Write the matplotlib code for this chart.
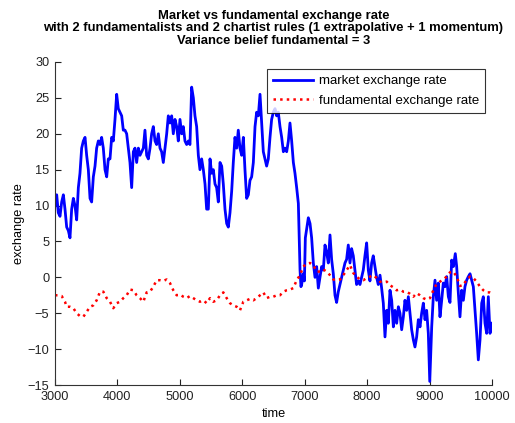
import matplotlib
matplotlib.use("Agg")
import matplotlib.pyplot as plt

plt.rcParams['font.family'] = ['Liberation Sans', 'DejaVu Sans']

market_t = [3000, 3027, 3053, 3080, 3107, 3134, 3160, 3187, 3214, 3240, 3267, 3294, 3320, 3347, 3374,
            3400, 3427, 3454, 3481, 3507, 3534, 3561, 3587, 3614, 3641, 3667, 3694, 3721, 3747, 3774,
            3801, 3828, 3854, 3881, 3908, 3934, 3961, 3988, 4014, 4041, 4068, 4094, 4121, 4148, 4174,
            4201, 4228, 4255, 4281, 4308, 4335, 4361, 4388, 4415, 4441, 4468, 4495, 4522, 4548, 4575,
            4602, 4628, 4655, 4682, 4708, 4735, 4762, 4789, 4815, 4842, 4869, 4895, 4922, 4949, 4975,
            5002, 5029, 5055, 5082, 5109, 5136, 5162, 5189, 5216, 5242, 5269, 5296, 5322, 5349, 5376,
            5403, 5429, 5456, 5483, 5509, 5536, 5563, 5589, 5616, 5643, 5670, 5696, 5723, 5750, 5776,
            5803, 5830, 5856, 5883, 5910, 5936, 5963, 5990, 6017, 6043, 6070, 6097, 6123, 6150, 6177,
            6204, 6230, 6257, 6284, 6310, 6337, 6364, 6390, 6417, 6444, 6470, 6497, 6524, 6551, 6577,
            6604, 6631, 6658, 6684, 6711, 6738, 6764, 6791, 6818, 6844, 6871, 6898, 6925, 6940, 6951,
            6978, 6995, 7010, 7035, 7058, 7085, 7111, 7138, 7165, 7191, 7218, 7245, 7271, 7298, 7325,
            7351, 7378, 7405, 7431, 7458, 7485, 7511, 7538, 7565, 7591, 7618, 7645, 7671, 7698, 7725,
            7751, 7778, 7805, 7831, 7858, 7885, 7912, 7938, 7965, 7992, 8019, 8045, 8072, 8098, 8125,
            8152, 8178, 8206, 8232, 8259, 8286, 8313, 8339, 8366, 8393, 8420, 8446, 8473, 8500, 8526,
            8553, 8580, 8606, 8633, 8660, 8686, 8713, 8740, 8766, 8793, 8820, 8847, 8873, 8900, 8927,
            8953, 8980, 9003, 9034, 9060, 9087, 9113, 9140, 9167, 9194, 9220, 9247, 9274, 9301, 9327,
            9354, 9381, 9412, 9434, 9461, 9487, 9514, 9541, 9567, 9594, 9621, 9648, 9674, 9701, 9728,
            9754, 9781, 9808, 9835, 9861, 9888, 9915, 9941, 9968, 10000]

market_rate = [10, 11.5, 9, 8.5, 10.5, 11.5, 9.5, 7, 6.5, 5.5, 9.5, 11, 10, 8, 12.5,
               14.5, 18, 19, 19.5, 17, 15, 11, 10.5, 14, 15.5, 18, 19, 18.5, 19.5, 18,
               15, 14, 16.5, 16.5, 19.5, 19, 22, 25.5, 23.5, 23, 22.5, 20.5, 20.5, 20, 18,
               16, 12.5, 17.5, 18, 16, 18, 17, 17.5, 18, 20.5, 17, 16.5, 18, 20, 21,
               19, 18.5, 20, 18, 17.5, 16, 18, 20, 22.5, 21.5, 22.5, 20, 22, 21, 19,
               22, 20, 21, 19, 18.5, 19, 18.5, 26.5, 25, 22.5, 21, 17, 15, 16.5, 15,
               13, 9.5, 9.5, 16.5, 14.5, 15, 13, 12.5, 10.5, 16, 15.5, 13, 9.5, 7.5, 7,
               9, 12, 16, 19.5, 18, 20.5, 18, 17, 19.5, 15, 11, 11.5, 13.5, 14, 16,
               21, 23, 22.5, 25.5, 21.5, 17.5, 16.5, 15.5, 16.5, 19.5, 22, 23, 23.5, 22.5, 23,
               21, 19.5, 17.5, 18, 17.5, 19, 21.5, 19, 16, 14.5, 12.5, 10.3, 1, -1.3, -1,
               0.5, -0.5, 5.5, 7, 8.3, 7.5, 5.5, 2, 0, 1.5, -1.5, 0, 1.5, 1, 4.5,
               3.5, 2, 5.9, 2.5, 0.5, -2.5, -3.5, -2, -1, 0, 1, 2, 2.5, 4.5, 2,
               4, 3, 1, -1, -0.5, -1, 0, 1, 3, 4.8, 1, -0.5, 2, 3, 1.5,
               0, -1, 0.3, -1.5, -3.6, -8.3, -4.6, -6.4, -1.8, -3.2, -6.9, -4.6, -6.4, -4.1, -5,
               -7.3, -5.5, -3.2, -4.6, -2.7, -5, -7.3, -8.7, -9.7, -8.3, -5.9, -6.9, -5, -3.6, -5.9,
               -4.6, -7.8, -14.5, -6.9, -2.7, -0.4, -3.2, -0.8, -5.5, -3.2, -0.8, -1.3, 0.1, -2.7, -3.5,
               2.4, 1.5, 3.3, 1.5, -2.2, -5.5, -1.8, -3.2, -1.3, -0.4, 0.1, 0.5, -0.4, -1.3, -4.6,
               -7.8, -11.5, -8.7, -3.6, -2.7, -6.4, -7.8, -2.7, -7.8, -6.4]

fund_t = [3000, 3053, 3107, 3160, 3187, 3240, 3294, 3347, 3400, 3454, 3507, 3561, 3614, 3667, 3721,
          3774, 3828, 3881, 3934, 3988, 4041, 4094, 4148, 4201, 4255, 4308, 4361, 4415, 4468, 4522,
          4575, 4628, 4682, 4735, 4789, 4842, 4895, 4949, 5002, 5055, 5109, 5162, 5216, 5269, 5322,
          5376, 5429, 5483, 5536, 5589, 5643, 5696, 5750, 5803, 5856, 5910, 5963, 6017, 6070, 6124,
          6177, 6230, 6284, 6337, 6390, 6444, 6497, 6551, 6604, 6657, 6711, 6764, 6818, 6871, 6924,
          6978, 7031, 7085, 7138, 7191, 7245, 7298, 7351, 7405, 7458, 7511, 7565, 7618, 7671, 7725,
          7778, 7832, 7885, 7939, 7992, 8046, 8099, 8152, 8206, 8259, 8313, 8366, 8419, 8472, 8526,
          8579, 8633, 8686, 8740, 8793, 8846, 8900, 8953, 9006, 9060, 9113, 9167, 9220, 9273, 9327,
          9380, 9434, 9487, 9540, 9594, 9647, 9701, 9754, 9808, 9861, 9914, 9968, 10000]

fund_rate = [-2.5, -2.5, -2.6, -3.4, -4.1, -4.1, -4.3, -5.0, -5.4, -5.5, -4.8, -4.1, -3.9, -3.2, -2.0,
             -2.0, -2.9, -3.4, -4.3, -3.6, -3.4, -2.9, -2.5, -1.7, -1.8, -2.5, -2.9, -3.4, -2.1, -2.0,
             -1.3, -0.4, -0.4, -0.5, -0.3, -0.8, -1.8, -2.5, -2.4, -2.7, -2.9, -2.6, -2.9, -3.2, -3.4,
             -3.2, -3.6, -2.9, -3.4, -3.2, -2.5, -2.1, -2.9, -3.6, -3.9, -4.1, -4.6, -3.4, -3.2, -3.0,
             -3.2, -2.9, -2.5, -2.1, -2.9, -2.7, -2.7, -2.5, -2.5, -2.0, -1.8, -1.7, -1.5, -0.4, 0.3,
             1.5, 1.9, 2.0, 1.7, 0.8, 0.8, 1.1, 0.8, 0.3, -0.3, -0.4, -0.3, 0.3, 1.0, 1.7,
             0.6, 0.1, -0.3, -0.4, -0.1, 0.1, 0.3, -0.1, -0.6, -0.7, -0.6, -1.1, -1.4, -1.8, -1.7,
             -2.0, -2.0, -2.3, -2.7, -2.2, -2.5, -2.9, -3.1, -2.9, -1.8, -0.9, -0.6, -0.3, 0.1, 0.7,
             0.8, 0.1, -1.2, -1.1, -0.3, 0.1, -0.1, -0.6, -1.3, -1.8, -2.1, -2.1, -2.2]

title_lines = ["Market vs fundamental exchange rate",
               "with 2 fundamentalists and 2 chartist rules (1 extrapolative + 1 momentum)",
               "Variance belief fundamental = 3"]
x_ticks = [3000, 4000, 5000, 6000, 7000, 8000, 9000, 10000]
y_ticks = [-15, -10, -5, 0, 5, 10, 15, 20, 25, 30]

fig = plt.figure(figsize=(5.15, 4.23), dpi=100)
ax = fig.add_axes([55/515, 1-385/423, 437/515, 323/423])

ax.plot(market_t, market_rate, color='#0000ff', lw=2.0, label='market exchange rate')
ax.plot(fund_t, fund_rate, color='#ff0000', lw=1.8, ls=':', label='fundamental exchange rate')

ax.set_xlim(3000, 10000)
ax.set_ylim(-15, 30)
ax.set_xticks(x_ticks)
ax.set_yticks(y_ticks)
ax.tick_params(direction='in', length=4, labelsize=9.2, colors='#222222', width=0.8, pad=4)
for s in ['top', 'right']:
    ax.spines[s].set_visible(False)
for s in ['left', 'bottom']:
    ax.spines[s].set_color('#333333')
    ax.spines[s].set_linewidth(0.8)

ax.set_xlabel('time', fontsize=9.2, labelpad=4)
ax.set_ylabel('exchange rate', fontsize=9.2, labelpad=2)
ax.set_title("\n".join(title_lines), fontsize=9.4, fontweight='bold', linespacing=1.08, pad=13)

leg = ax.legend(loc='upper left', bbox_to_anchor=((267-55)/437, (385-69)/323), fontsize=9.5,
                frameon=True, fancybox=False, edgecolor='black', borderpad=0.45,
                handlelength=3.0, handletextpad=0.5, labelspacing=0.55, borderaxespad=0)
leg.get_frame().set_linewidth(0.8)

fig.savefig('out.png', dpi=100)
